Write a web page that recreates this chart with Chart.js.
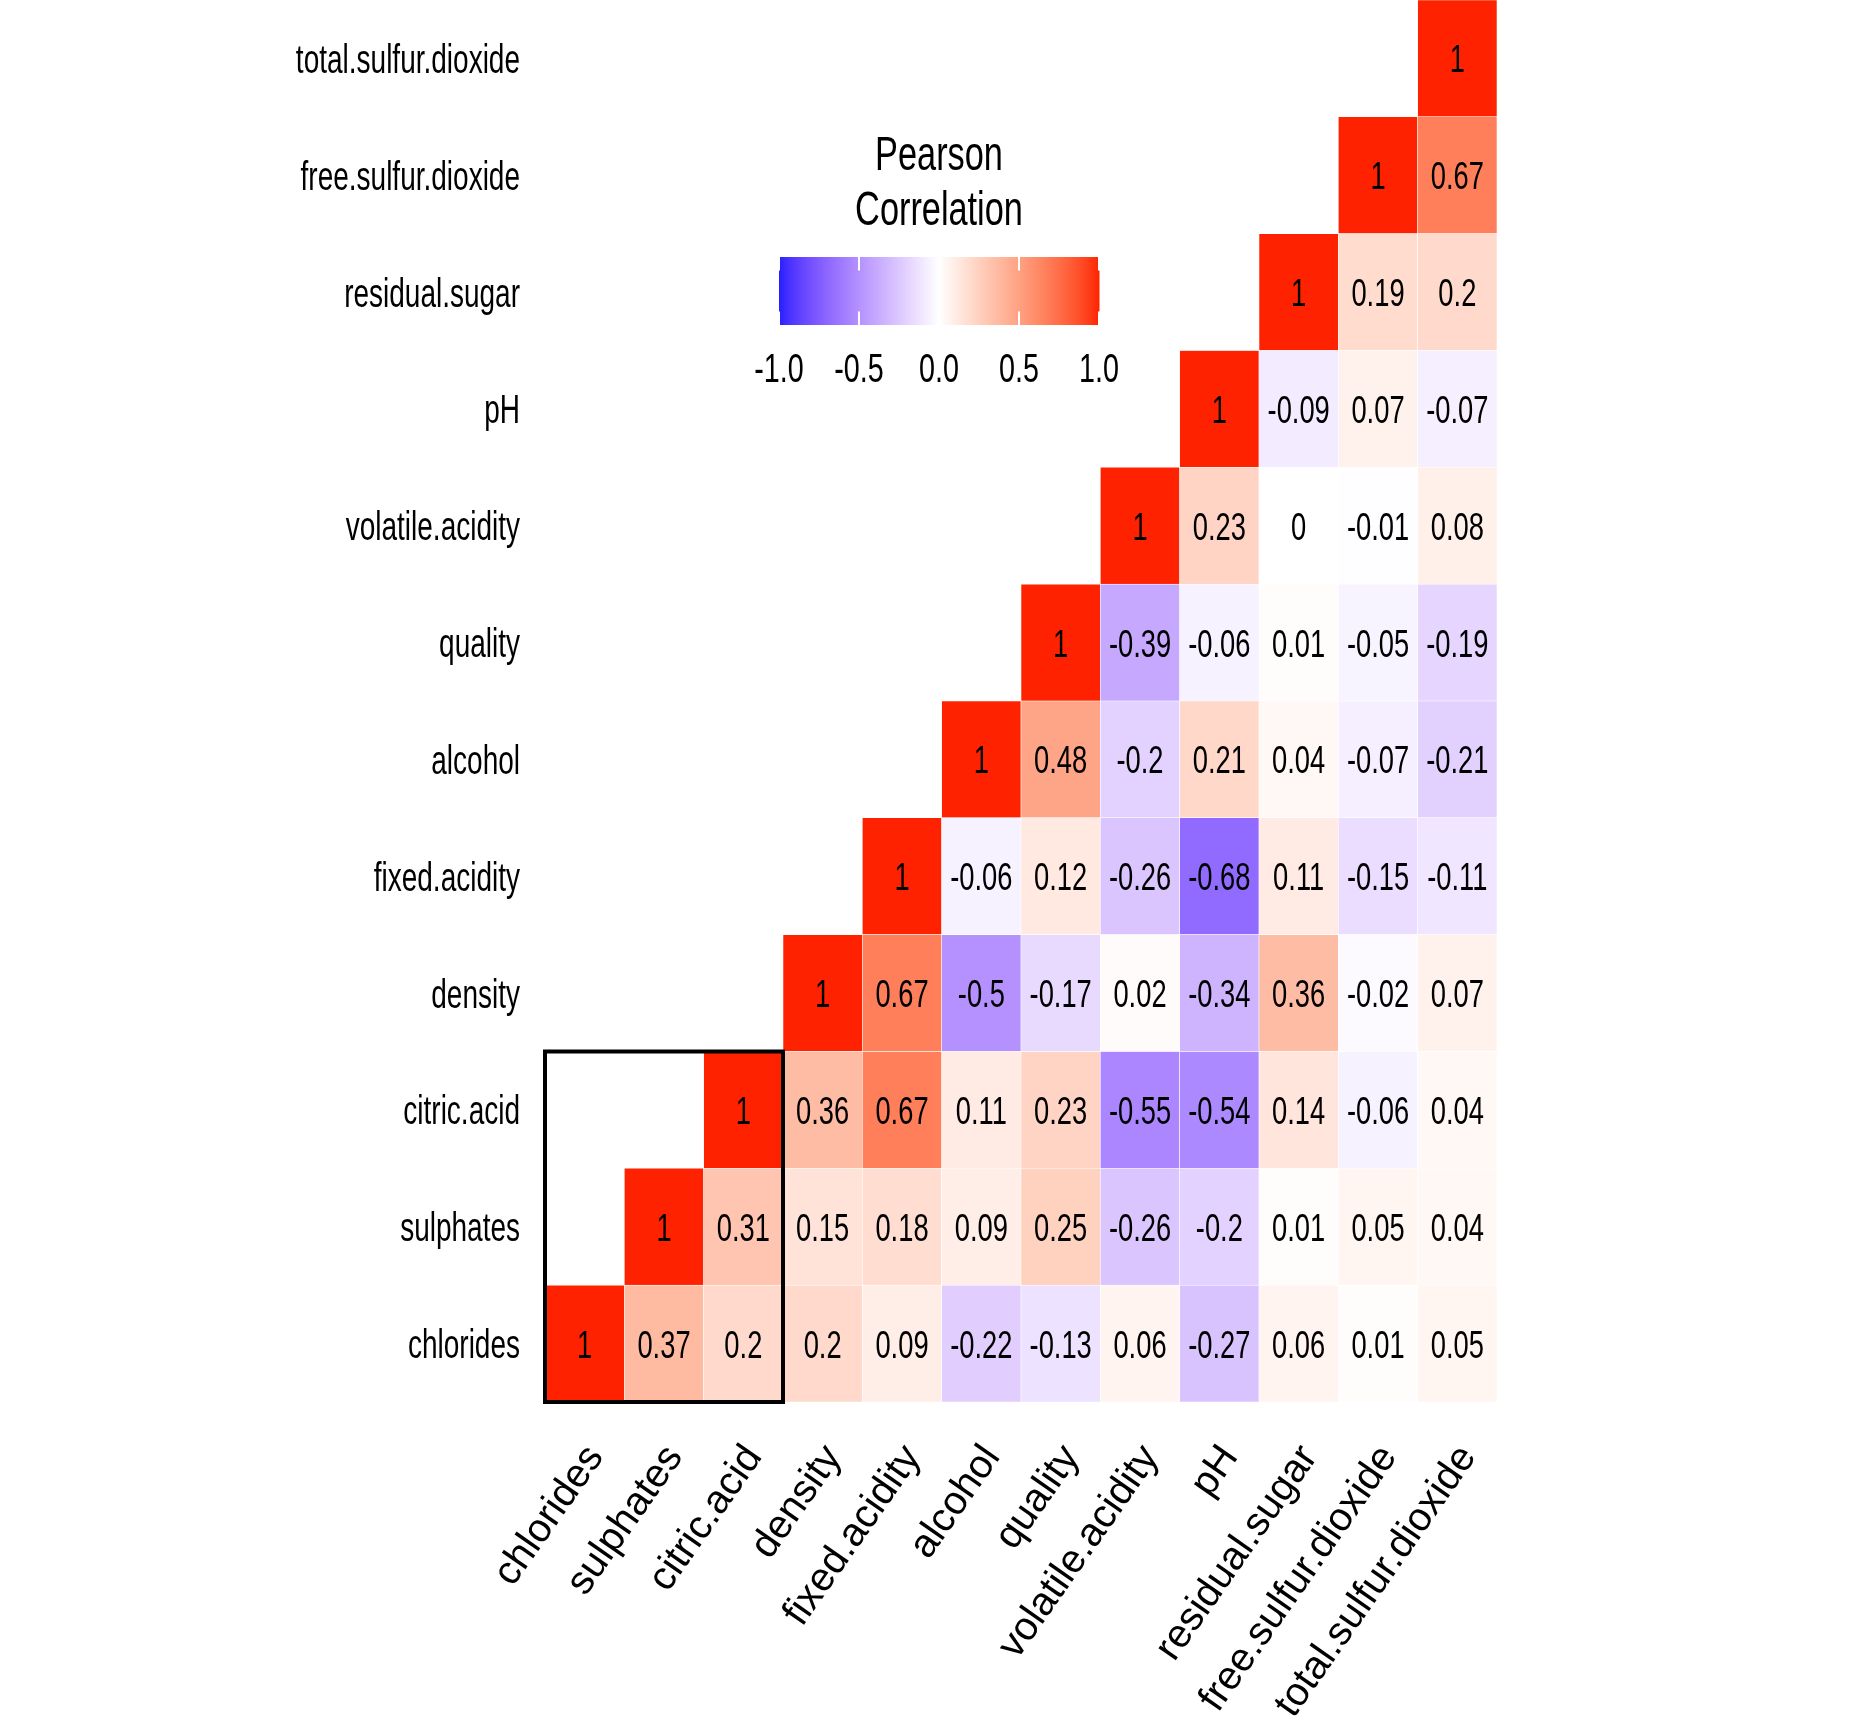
<!DOCTYPE html>
<html>
<head>
<meta charset="utf-8">
<title>Pearson correlation</title>
<script src="https://cdn.jsdelivr.net/npm/chart.js@4/dist/chart.umd.min.js"></script>
<style>
  html, body { margin: 0; padding: 0; background: #ffffff; }
  canvas { display: block; }
</style>
</head>
<body>
<canvas id="heat" width="1854" height="1734" style="width:1854px;height:1734px"></canvas>
<script>
// variables, bottom-to-top on y and left-to-right on x
var vars = ['chlorides', 'sulphates', 'citric.acid', 'density', 'fixed.acidity', 'alcohol',
            'quality', 'volatile.acidity', 'pH', 'residual.sugar', 'free.sulfur.dioxide', 'total.sulfur.dioxide'];

// each row starts at its diagonal cell
var rowChlorides = [1, 0.37, 0.2, 0.2, 0.09, -0.22, -0.13, 0.06, -0.27, 0.06, 0.01, 0.05];
var rowSulphates = [1, 0.31, 0.15, 0.18, 0.09, 0.25, -0.26, -0.2, 0.01, 0.05, 0.04];
var rowCitric = [1, 0.36, 0.67, 0.11, 0.23, -0.55, -0.54, 0.14, -0.06, 0.04];
var rowDensity = [1, 0.67, -0.5, -0.17, 0.02, -0.34, 0.36, -0.02, 0.07];
var rowFixed = [1, -0.06, 0.12, -0.26, -0.68, 0.11, -0.15, -0.11];
var rowAlcohol = [1, 0.48, -0.2, 0.21, 0.04, -0.07, -0.21];
var rowQuality = [1, -0.39, -0.06, 0.01, -0.05, -0.19];
var rowVolatile = [1, 0.23, 0, -0.01, 0.08];
var rowPH = [1, -0.09, 0.07, -0.07];
var rowSugar = [1, 0.19, 0.2];
var rowFree = [1, 0.67];
var rowTotal = [1];
var rows = [rowChlorides, rowSulphates, rowCitric, rowDensity, rowFixed, rowAlcohol,
            rowQuality, rowVolatile, rowPH, rowSugar, rowFree, rowTotal];

var legendBreaks = [-1.0, -0.5, 0.0, 0.5, 1.0];
var legendLabels = ['-1.0', '-0.5', '0.0', '0.5', '1.0'];
var legendTitle = ['Pearson', 'Correlation'];
var boxedVars = 3; // black frame round the first three variables

var SX = 0.7; // text in the picture is squeezed sideways
var FONT = '"Liberation Sans", Arial, Helvetica, sans-serif';
var LOW = [32, 32, 255], MID = [255, 255, 255], HIGH = [255, 34, 0];

// --- Lab interpolation, like ggplot's gradient2 ---
function toLab(c){
    var lin = c.map(function(v){ v = v / 255; return v <= 0.04045 ? v / 12.92 : Math.pow((v + 0.055) / 1.055, 2.4); });
    var X = (0.4124564*lin[0] + 0.3575761*lin[1] + 0.1804375*lin[2]) / 0.95047;
    var Y = (0.2126729*lin[0] + 0.7151522*lin[1] + 0.0721750*lin[2]);
    var Z = (0.0193339*lin[0] + 0.1191920*lin[1] + 0.9503041*lin[2]) / 1.08883;
    var f = function(t){ return t > 0.008856 ? Math.cbrt(t) : 7.787*t + 16/116; };
    return [116*f(Y) - 16, 500*(f(X) - f(Y)), 200*(f(Y) - f(Z))];
}
function fromLab(l){
    var fy = (l[0] + 16) / 116, fx = fy + l[1] / 500, fz = fy - l[2] / 200;
    var inv = function(t){ var t3 = t*t*t; return t3 > 0.008856 ? t3 : (t - 16/116) / 7.787; };
    var X = 0.95047*inv(fx), Y = inv(fy), Z = 1.08883*inv(fz);
    var rgb = [ 3.2404542*X - 1.5371385*Y - 0.4985314*Z,
               -0.9692660*X + 1.8760108*Y + 0.0415560*Z,
                0.0556434*X - 0.2040259*Y + 1.0572252*Z];
    return rgb.map(function(v){
        v = v <= 0.0031308 ? 12.92*v : 1.055*Math.pow(v, 1/2.4) - 0.055;
        return Math.round(Math.max(0, Math.min(1, v)) * 255);
    });
}
var labLow = toLab(LOW), labMid = toLab(MID), labHigh = toLab(HIGH);
function fillFor(v){
    var end = v < 0 ? labLow : labHigh, t = Math.min(1, Math.abs(v));
    var c = fromLab([0, 1, 2].map(function(k){ return labMid[k] + (end[k] - labMid[k]) * t; }));
    return 'rgb(' + c.join(',') + ')';
}

// one floating-bar dataset per row, spanning [j-0.5, j+0.5]
var datasets = rows.map(function(row, j){
    return {
        label: vars[j],
        data: vars.map(function(v, i){ return i >= j ? [j - 0.5, j + 0.5] : null; }),
        backgroundColor: vars.map(function(v, i){ return i >= j ? fillFor(row[i - j]) : 'rgba(0,0,0,0)'; }),
        borderColor: '#ffffff',
        borderWidth: 0.6,
        borderSkipped: false,
        barPercentage: 1,
        categoryPercentage: 1,
        grouped: false
    };
});

function squeezedText(ctx, txt, x, y, align){
    ctx.save();
    ctx.translate(x, y);
    ctx.scale(SX, 1);
    ctx.textAlign = align;
    ctx.textBaseline = 'alphabetic';
    ctx.fillText(txt, 0, 0);
    ctx.restore();
}

var decorations = {
    id: 'decorations',
    afterDatasetsDraw: function(chart){
        var ctx = chart.ctx, xs = chart.scales.x, ys = chart.scales.y, area = chart.chartArea;
        ctx.fillStyle = '#000000';

        // cell values
        ctx.font = '39px ' + FONT;
        rows.forEach(function(row, j){
            row.forEach(function(val, k){
                var i = j + k;
                squeezedText(ctx, String(val), xs.getPixelForValue(i), ys.getPixelForValue(j) + 14, 'center');
            });
        });

        // frame round the first block
        ctx.save();
        ctx.strokeStyle = '#000000';
        ctx.lineWidth = 4;
        var bx0 = xs.getPixelForValue(-0.5), bx1 = xs.getPixelForValue(boxedVars - 0.5);
        var by0 = ys.getPixelForValue(boxedVars - 0.5), by1 = ys.getPixelForValue(-0.5);
        ctx.strokeRect(bx0, by0, bx1 - bx0, by1 - by0);
        ctx.restore();

        // y axis labels
        ctx.font = '40px ' + FONT;
        vars.forEach(function(v, j){
            squeezedText(ctx, v, area.left - 25, ys.getPixelForValue(j) + 14.5, 'right');
        });

        // x axis labels, steep angle
        vars.forEach(function(v, i){
            ctx.save();
            ctx.translate(xs.getPixelForValue(i) - 4, area.bottom + 38);
            ctx.rotate(-55 * Math.PI / 180);
            ctx.textAlign = 'right';
            ctx.textBaseline = 'alphabetic';
            ctx.fillText(v, 0, 29);
            ctx.restore();
        });

        // colour bar legend
        var lx = 779, lw = 320, ly = 257, lh = 68;
        for (var p = 0; p < lw; p++){
            ctx.fillStyle = fillFor(-1 + 2 * (p + 0.5) / lw);
            ctx.fillRect(lx + p, ly, 1.5, lh);
        }
        ctx.strokeStyle = '#ffffff';
        ctx.lineWidth = 2;
        legendBreaks.forEach(function(b){
            var bx = lx + (b + 1) / 2 * lw;
            ctx.beginPath();
            ctx.moveTo(bx, ly); ctx.lineTo(bx, ly + lh / 5);
            ctx.moveTo(bx, ly + lh - lh / 5); ctx.lineTo(bx, ly + lh);
            ctx.stroke();
        });
        ctx.fillStyle = '#000000';
        ctx.font = '41px ' + FONT;
        legendBreaks.forEach(function(b, k){
            squeezedText(ctx, legendLabels[k], lx + (b + 1) / 2 * lw, 382, 'center');
        });
        ctx.font = '49px ' + FONT;
        squeezedText(ctx, legendTitle[0], lx + lw / 2, 170, 'center');
        squeezedText(ctx, legendTitle[1], lx + lw / 2, 225, 'center');
    }
};

var chart = new Chart(document.getElementById('heat'), {
    type: 'bar',
    data: { labels: vars, datasets: datasets },
    options: {
        responsive: false,
        animation: false,
        layout: { padding: { left: 545, right: 357, top: 0, bottom: 332 } },
        plugins: { legend: { display: false }, tooltip: { enabled: false } },
        scales: {
            x: { display: false, offset: true },
            y: { display: false, type: 'linear', min: -0.5, max: 11.5 }
        }
    },
    plugins: [decorations]
});
</script>
</body>
</html>
